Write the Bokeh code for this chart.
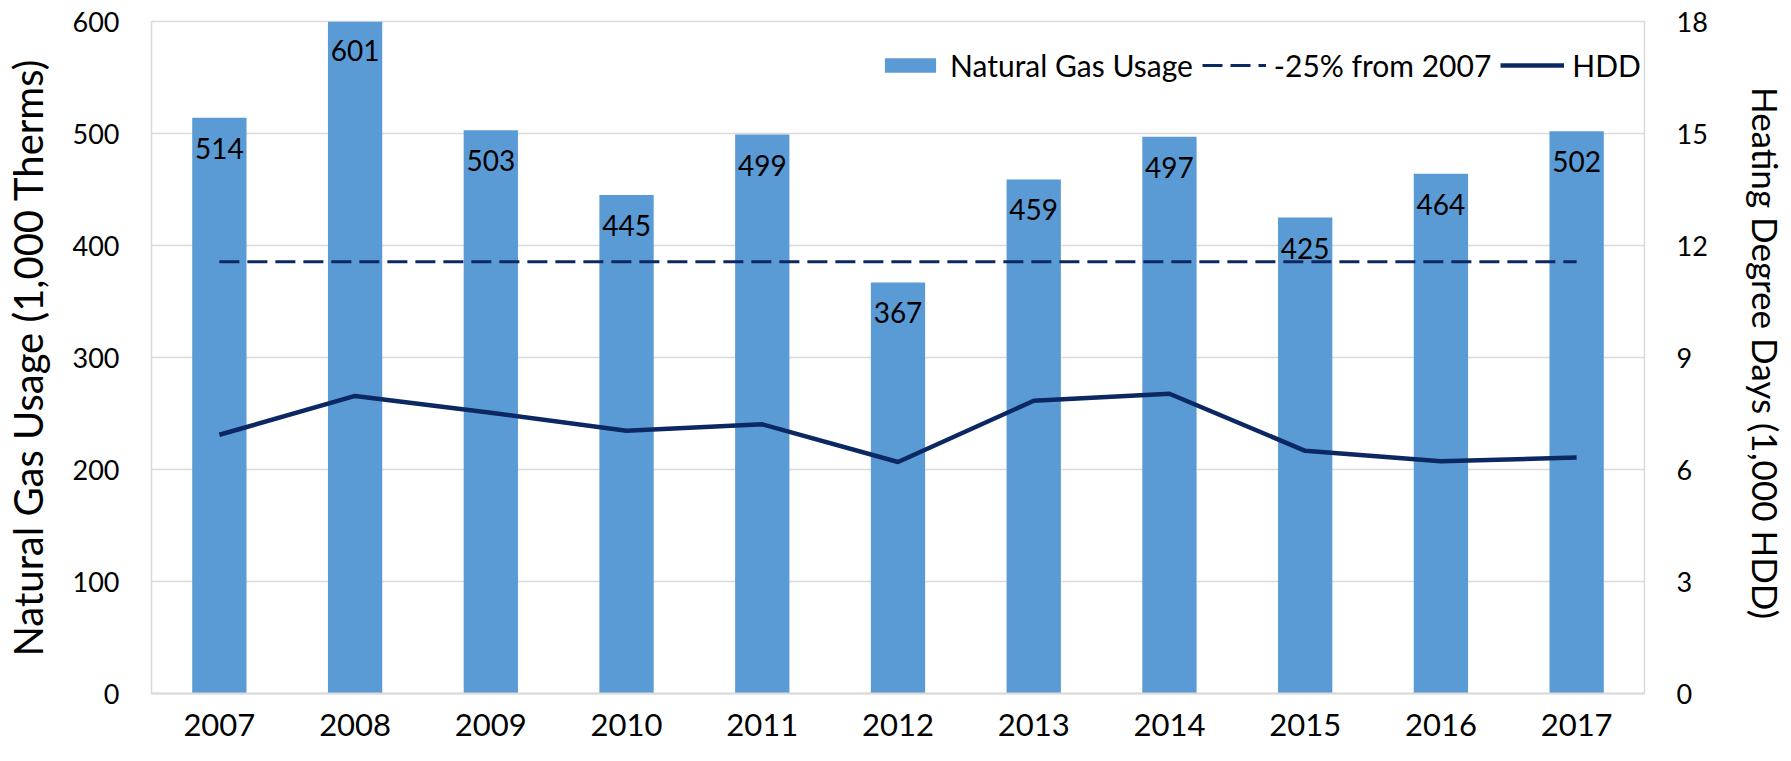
from bokeh.plotting import figure
from bokeh.models import Range1d, LinearAxis, FixedTicker, Legend, LegendItem, ColumnDataSource
from bokeh.core.properties import value
from bokeh.embed import file_html
from bokeh.resources import INLINE

years = ["2007", "2008", "2009", "2010", "2011", "2012", "2013", "2014", "2015", "2016", "2017"]
gas_usage = [514, 601, 503, 445, 499, 367, 459, 497, 425, 464, 502]
hdd = [6.93, 7.97, 7.52, 7.04, 7.21, 6.20, 7.84, 8.03, 6.50, 6.22, 6.32]
target = [385.5] * len(years)
left_ticks = [0, 100, 200, 300, 400, 500, 600]
right_ticks = [0, 3, 6, 9, 12, 15, 18]

FONT = "Lato"
BAR = "#5b9bd5"
NAVY = "#0c2862"

src = ColumnDataSource(dict(x=years, top=gas_usage, lbl=[str(v) for v in gas_usage], hdd=hdd, target=target))

p = figure(x_range=years, y_range=Range1d(0, 600), frame_width=1493, frame_height=672,
           output_backend="svg", toolbar_location=None,
           min_border_left=146, min_border_top=21, min_border_right=136, min_border_bottom=60)
p.extra_y_ranges = {"hdd": Range1d(0, 18)}

bars = p.vbar(x="x", top="top", width=0.4, source=src, color=BAR, line_color=None)
dash = p.line(x="x", y="target", source=src, line_color=NAVY, line_width=3, line_dash="20 8")
hline = p.line(x="x", y="hdd", source=src, line_color=NAVY, line_width=4.5, y_range_name="hdd")
p.text(x="x", y="top", text="lbl", source=src, text_font=value(FONT), text_font_size="28px",
       text_align="center", text_baseline="top", y_offset=20, text_color="#000000")

p.outline_line_color = "#d9d9d9"
p.outline_line_width = 1.5
p.xgrid.grid_line_color = None
p.ygrid.grid_line_color = "#d9d9d9"
p.ygrid.grid_line_width = 1.5
p.ygrid.ticker = FixedTicker(ticks=left_ticks)

ax = p.xaxis[0]
ax.axis_line_color = "#d9d9d9"
ax.axis_line_width = 2
ax.major_tick_line_color = None
ax.minor_tick_line_color = None
ax.major_label_text_font = FONT
ax.major_label_text_font_size = "31px"
ax.major_label_text_color = "#000000"
ax.major_label_standoff = 14

ay = p.yaxis[0]
ay.ticker = FixedTicker(ticks=left_ticks)
ay.axis_line_color = None
ay.major_tick_line_color = None
ay.minor_tick_line_color = None
ay.major_label_text_font = FONT
ay.major_label_text_font_size = "27px"
ay.major_label_text_color = "#000000"
ay.major_label_standoff = 26
ay.axis_label = "Natural Gas Usage (1,000 Therms)"
ay.axis_label_text_font = FONT
ay.axis_label_text_font_style = "normal"
ay.axis_label_text_font_size = "40px"
ay.axis_label_text_color = "#000000"
ay.axis_label_standoff = 18

ry = LinearAxis(y_range_name="hdd", ticker=FixedTicker(ticks=right_ticks))
ry.axis_line_color = None
ry.major_tick_line_color = None
ry.minor_tick_line_color = None
ry.major_label_text_font = FONT
ry.major_label_text_font_size = "27px"
ry.major_label_text_color = "#000000"
ry.major_label_standoff = 26
ry.axis_label = "Heating Degree Days  (1,000 HDD)"
ry.axis_label_text_font = FONT
ry.axis_label_text_font_style = "normal"
ry.axis_label_text_font_size = "35px"
ry.axis_label_text_color = "#000000"
ry.axis_label_standoff = 34
p.add_layout(ry, "right")

legend = Legend(items=[LegendItem(label="Natural Gas Usage", renderers=[bars]),
                       LegendItem(label="-25% from 2007", renderers=[dash]),
                       LegendItem(label="HDD", renderers=[hline])],
                orientation="horizontal", location=(727, 610),
                label_text_font=FONT, label_text_font_size="30px", label_text_color="#000000",
                glyph_width=64, glyph_height=18, label_standoff=8, spacing=9,
                padding=0, margin=0, border_line_color=None, background_fill_alpha=0)
p.add_layout(legend, "center")

open("out.html", "w").write(file_html(p, INLINE))
